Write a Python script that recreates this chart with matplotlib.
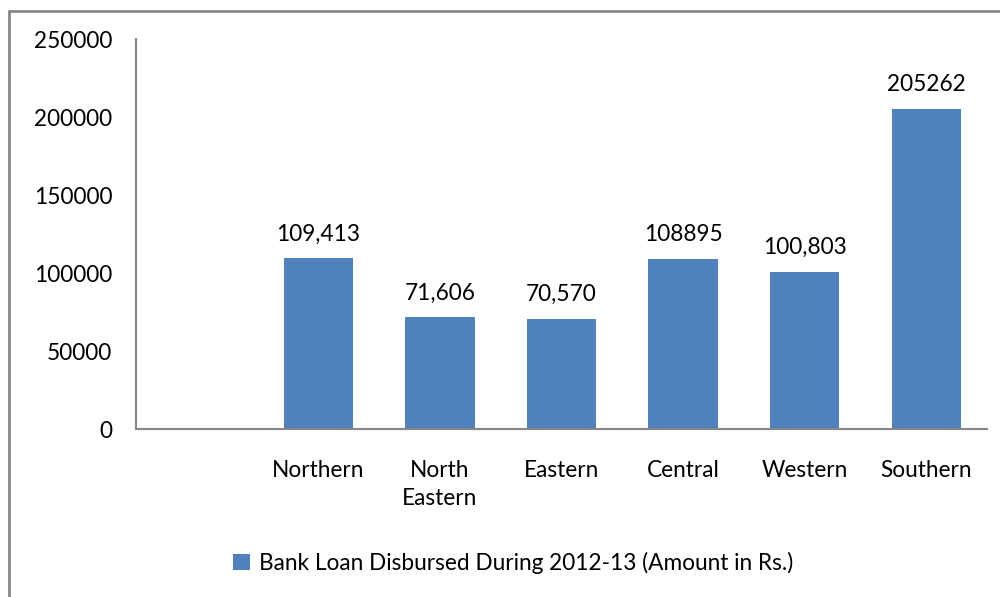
import matplotlib.pyplot as plt
from matplotlib.patches import Rectangle

regions = ["Northern", "North\nEastern", "Eastern", "Central", "Western", "Southern"]
loan_amount = [109413, 71606, 70570, 108895, 100803, 205262]
value_labels = ["109,413", "71,606", "70,570", "108895", "100,803", "205262"]
y_ticks = [0, 50000, 100000, 150000, 200000, 250000]
series_name = "Bank Loan Disbursed During 2012-13 (Amount in Rs.)"

plt.rcParams["font.family"] = ["Lato", "DejaVu Sans"]
fontsize = 16.3
bar_color = "#4F81BD"
axis_color = "#868686"

fig = plt.figure(figsize=(10, 5.97), dpi=100, facecolor="w")
ax = fig.add_axes([0.136, 0.2814, 0.851, 0.6526])

x = list(range(len(regions)))
bars = ax.bar(x, loan_amount, width=0.57, color=bar_color, label=series_name)

for rect, text in zip(bars, value_labels):
    ax.annotate(text, (rect.get_x() + rect.get_width() / 2, rect.get_height()),
                xytext=(0, 10), textcoords="offset points",
                ha="center", va="bottom", fontsize=fontsize)

# first category slot is empty in the original chart
ax.set_xlim(-1.5, len(regions) - 0.5)
ax.set_ylim(0, 250000)
ax.set_yticks(y_ticks)
ax.set_yticklabels([str(v) for v in y_ticks], fontsize=fontsize)
ax.set_xticks(x)
ax.set_xticklabels(regions, fontsize=fontsize, linespacing=1.45)
ax.tick_params(axis="both", length=0)
ax.tick_params(axis="y", pad=17)
ax.tick_params(axis="x", pad=22)

for side in ["top", "right"]:
    ax.spines[side].set_visible(False)
for side in ["left", "bottom"]:
    ax.spines[side].set_color(axis_color)
    ax.spines[side].set_linewidth(1.5)

fig.legend(loc="center", bbox_to_anchor=(0.513, 1 - 563 / 597), frameon=False,
           fontsize=fontsize, handlelength=0.75, handleheight=0.75, handletextpad=0.4)

# chart border (outer frame, runs off the right/bottom edge)
fig.patches.append(Rectangle((0.009, -0.05), 1.1, 1 - 11 / 597 + 0.05,
                             transform=fig.transFigure, fill=False,
                             edgecolor=axis_color, linewidth=2))

fig.savefig("out.png", dpi=100)
